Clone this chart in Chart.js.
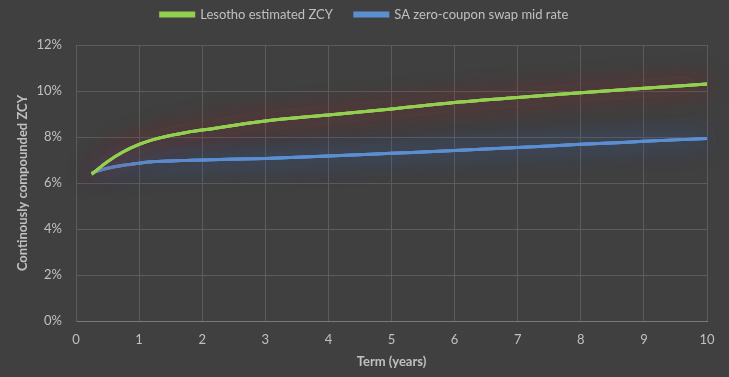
<!DOCTYPE html>
<html lang="en">
<head>
    <meta charset="UTF-8">
    <title>Lesotho ZCY vs SA swap curve</title>
    <style>
        html, body { margin: 0; padding: 0; background: #404040; }
        .chart-box { width: 729px; height: 377px; }
    </style>
</head>
<body>

<div class="chart-box"><canvas id="zcyChart" width="729" height="377"></canvas></div>

<script src="https://cdn.jsdelivr.net/npm/chart.js"></script>
<script>
    // Term in years and yields in percent
    const lesothoTerms = [0.25, 0.5, 0.75, 1, 1.25, 1.5, 1.75, 2, 3, 4, 5, 6, 7, 8, 9, 10];
    const lesothoZcy = [6.38, 6.93, 7.36, 7.68, 7.91, 8.07, 8.20, 8.30, 8.70, 8.96, 9.22, 9.50, 9.72, 9.92, 10.12, 10.30];

    const swapTerms = [0.25, 0.5, 0.75, 1, 1.25, 1.5, 1.75, 2, 3, 4, 5, 6, 7, 8, 9, 10];
    const swapMid = [6.45, 6.64, 6.77, 6.86, 6.93, 6.96, 6.98, 7.0, 7.07, 7.17, 7.29, 7.41, 7.54, 7.68, 7.81, 7.94];

    const xTicks = [0, 1, 2, 3, 4, 5, 6, 7, 8, 9, 10];
    const yTicks = [0, 2, 4, 6, 8, 10, 12];

    const FONT = "Lato, 'DejaVu Sans Condensed', sans-serif";
    const TEXT = '#c0c0c0';
    const GRID = '#5c5c5c';

    const toPoints = (xs, ys) => xs.map((x, i) => ({ x: x, y: ys[i] }));

    // soft coloured halo round each line, like the Excel glow effect
    const glowPlugin = {
        id: 'glow',
        beforeDatasetDraw(chart, args) {
            const c = chart.ctx;
            const meta = args.meta;
            c.save();
            c.shadowColor = meta._dataset.glowColor;
            c.shadowBlur = 26;
            meta.dataset.draw(c, chart.chartArea);
            meta.dataset.draw(c, chart.chartArea);
            c.restore();
        }
    };

    // fixed legend band height, legend centred on the whole canvas
    const legendPlugin = {
        id: 'legendBox',
        beforeLayout(chart) {
            const legend = chart.legend;
            if (legend && !legend._patched) {
                const fit = legend.fit;
                legend.fit = function () {
                    fit.call(this);
                    this.height = 45;
                };
                legend._patched = true;
            }
        },
        afterLayout(chart) {
            const legend = chart.legend;
            const pad = legend.options.labels.padding;
            legend.left = 0;
            legend.right = chart.width;
            legend.top = 8 - pad;
        }
    };

    new Chart(document.getElementById('zcyChart'), {
        type: 'line',
        data: {
            datasets: [{
                label: 'Lesotho estimated ZCY',
                data: toPoints(lesothoTerms, lesothoZcy),
                borderColor: '#92d050',
                backgroundColor: '#92d050',
                glowColor: 'rgba(150, 30, 30, 0.85)',
                borderWidth: 3,
                pointRadius: 0,
                cubicInterpolationMode: 'monotone'
            }, {
                label: 'SA zero-coupon swap mid rate',
                data: toPoints(swapTerms, swapMid),
                borderColor: '#5a8fd2',
                backgroundColor: '#5a8fd2',
                glowColor: 'rgba(50, 95, 180, 0.85)',
                borderWidth: 3,
                pointRadius: 0,
                cubicInterpolationMode: 'monotone'
            }]
        },
        options: {
            responsive: false,
            animation: false,
            layout: { padding: { left: 0, right: 22, top: 0, bottom: 0 } },
            plugins: {
                legend: {
                    position: 'top',
                    labels: {
                        color: TEXT,
                        font: { family: FONT, size: 13 },
                        boxWidth: 33,
                        boxHeight: 3,
                        padding: 22
                    }
                },
                tooltip: { enabled: false }
            },
            scales: {
                x: {
                    type: 'linear',
                    min: 0,
                    max: 10,
                    afterBuildTicks: s => { s.ticks = xTicks.map(v => ({ value: v })); },
                    afterFit: s => { s.height = 56; },
                    grid: { color: GRID, drawTicks: false },
                    border: { color: '#7a7a7a' },
                    ticks: { color: TEXT, font: { family: FONT, size: 13 }, padding: 11 },
                    title: {
                        display: true,
                        text: 'Term (years)',
                        color: TEXT,
                        font: { family: FONT, size: 13, weight: 'bold' },
                        padding: { top: 4, bottom: 7 }
                    }
                },
                y: {
                    min: 0,
                    max: 12,
                    afterBuildTicks: s => { s.ticks = yTicks.map(v => ({ value: v })); },
                    afterFit: s => { s.width = 76; },
                    grid: { color: GRID, drawTicks: false },
                    border: { color: GRID },
                    ticks: {
                        color: TEXT,
                        font: { family: FONT, size: 13 },
                        padding: 14,
                        callback: v => v + '%'
                    },
                    title: {
                        display: true,
                        text: 'Continously compounded ZCY',
                        color: TEXT,
                        font: { family: FONT, size: 13, weight: 'bold' },
                        padding: { top: 15, bottom: 4 }
                    }
                }
            }
        },
        plugins: [glowPlugin, legendPlugin]
    });
</script>

</body>
</html>
